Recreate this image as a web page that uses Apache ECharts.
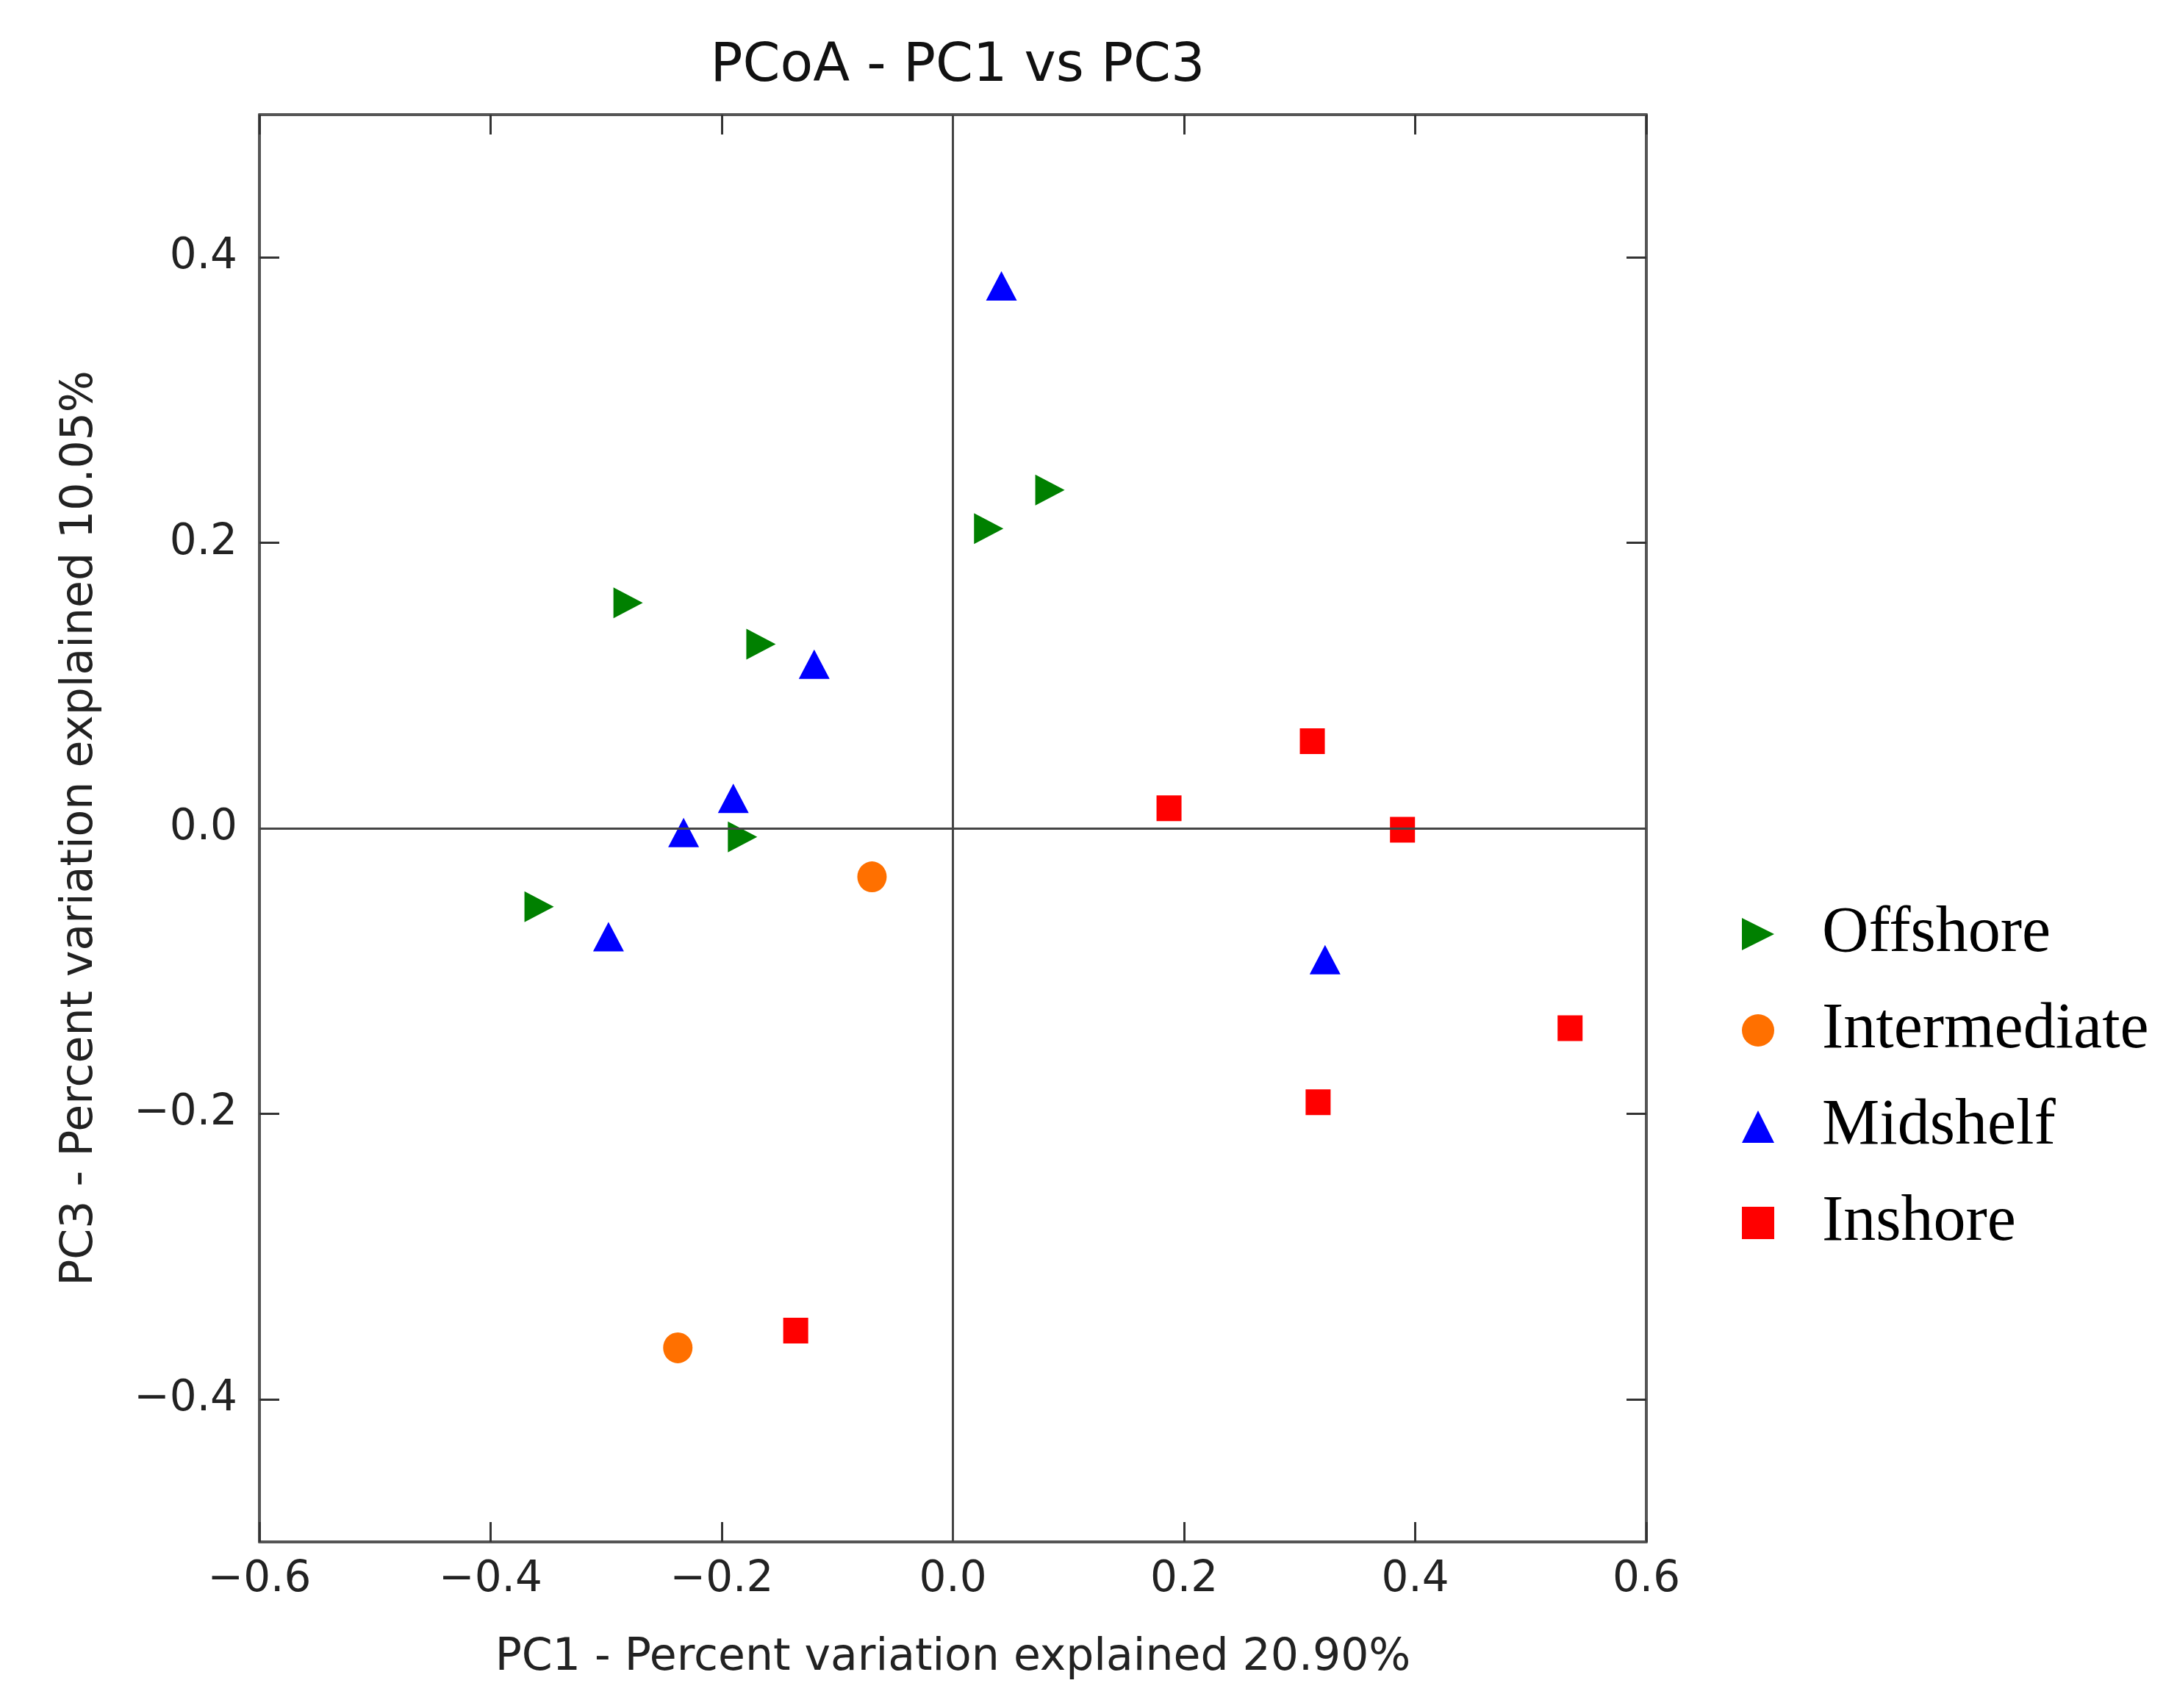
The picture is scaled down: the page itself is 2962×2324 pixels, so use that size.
<!DOCTYPE html>
<html>
<head>
<meta charset="utf-8">
<title>PCoA - PC1 vs PC3</title>
<style>
  html, body { margin: 0; padding: 0; background: #fff; }
  #chart { width: 2962px; height: 2324px; }
</style>
</head>
<body>
<div id="chart"></div>
<script src="https://cdn.jsdelivr.net/npm/echarts@6/dist/echarts.min.js"></script>
<script>
"use strict";
// sample coordinates [PC1, PC3]
var offshore     = [[-0.281, 0.158], [-0.166, 0.129], [-0.182, -0.006], [-0.358, -0.055], [0.031, 0.210], [0.084, 0.237]];
var intermediate = [[-0.070, -0.034], [-0.238, -0.364]];
var midshelf     = [[0.042, 0.380], [-0.120, 0.115], [-0.190, 0.021], [-0.233, -0.003], [-0.298, -0.076], [0.322, -0.092]];
var inshore      = [[0.311, 0.061], [0.187, 0.014], [0.389, -0.001], [0.534, -0.140], [0.316, -0.192], [-0.136, -0.352]];

var groups = ['Offshore', 'Intermediate', 'Midshelf', 'Inshore'];
var xTicks = [-0.6, -0.4, -0.2, 0.0, 0.2, 0.4, 0.6];
var yTicks = [-0.4, -0.2, 0.0, 0.2, 0.4];

var sansFont = "'DejaVu Sans', sans-serif";
var rightTri = 'path://M0,0L2,1L0,2Z';

function fmt(v){ return v.toFixed(1).replace('-', '\u2212'); }

function frameAxis(pos, showLabel, ticks){
	var isX = (pos == 'top' || pos == 'bottom');
	return {
		type: 'value', position: pos,
		min: isX ? -0.6 : -0.5, max: isX ? 0.6 : 0.5,
		axisLine: { show: true, onZero: false, lineStyle: { color: '#555', width: 4 } },
		axisTick: { show: true, inside: true, length: 27, customValues: ticks, lineStyle: { color: '#333', width: 3 } },
		axisLabel: { show: showLabel, customValues: ticks, formatter: fmt, margin: isX ? 23 : 30,
			color: '#222', fontSize: 58, fontFamily: sansFont },
		splitLine: { show: false }
	};
}

var xBottom = frameAxis('bottom', true, xTicks);
xBottom.name = 'PC1 - Percent variation explained 20.90%';
xBottom.nameLocation = 'middle'; xBottom.nameGap = 128;
xBottom.nameTextStyle = { fontSize: 60, fontFamily: sansFont, color: '#222' };
var yLeft = frameAxis('left', true, yTicks);
yLeft.name = 'PC3 - Percent variation explained 10.05%';
yLeft.nameLocation = 'middle'; yLeft.nameGap = 214;
yLeft.nameTextStyle = { fontSize: 60, fontFamily: sansFont, color: '#222' };

var option = {
	backgroundColor: '#fff',
	animation: false,
	title: { text: 'PCoA - PC1 vs PC3', left: 1298, top: 50, textAlign: 'center',
		textStyle: { fontSize: 73, fontWeight: 'normal', fontFamily: sansFont, color: '#111' } },
	grid: { left: 353, right: 722, top: 156, bottom: 226, containLabel: false },
	legend: {
		data: groups, orient: 'vertical', left: 2365, top: 1222,
		itemWidth: 44, itemHeight: 44, itemGap: 43,
		textStyle: { fontSize: 88, lineHeight: 88, fontFamily: "'Liberation Serif', 'Times New Roman', serif",
			color: '#000', padding: [0, 0, 0, 60] }
	},
	xAxis: [ xBottom, frameAxis('top', false, xTicks) ],
	yAxis: [ yLeft, frameAxis('right', false, yTicks) ],
	series: [
		{ name: 'Offshore', type: 'scatter', data: offshore, symbol: rightTri, symbolSize: [40, 42],
		  itemStyle: { color: '#008000', opacity: 1 } },
		{ name: 'Intermediate', type: 'scatter', data: intermediate, symbol: 'circle', symbolSize: [40, 42],
		  itemStyle: { color: '#ff7000', opacity: 1 } },
		{ name: 'Midshelf', type: 'scatter', data: midshelf, symbol: 'triangle', symbolSize: [42, 40],
		  itemStyle: { color: '#0000ff', opacity: 1 } },
		{ name: 'Inshore', type: 'scatter', data: inshore, symbol: 'rect', symbolSize: [34, 35],
		  itemStyle: { color: '#ff0000', opacity: 1 },
		  markLine: { silent: true, symbol: ['none', 'none'], label: { show: false },
			lineStyle: { color: '#444', width: 3, type: 'solid' },
			data: [ { xAxis: 0 }, { yAxis: 0 } ] } }
	]
};

var myChart = echarts.init(document.getElementById('chart'));
myChart.setOption(option);
</script>
</body>
</html>
